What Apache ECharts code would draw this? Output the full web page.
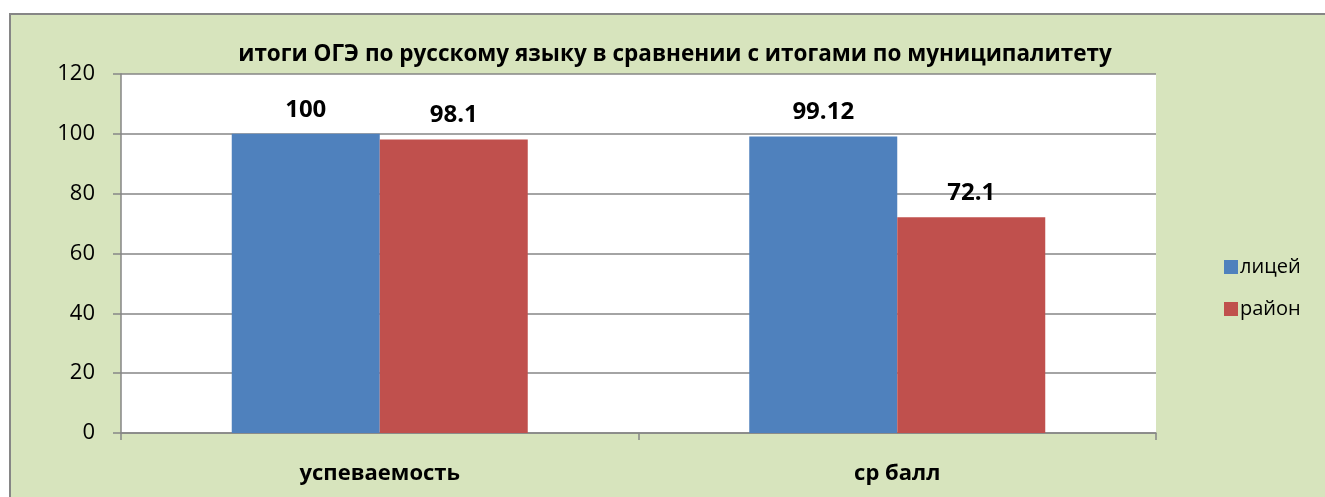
<!DOCTYPE html>
<html>
<head>
<meta charset="utf-8">
<script src="https://cdn.jsdelivr.net/npm/echarts@6/dist/echarts.min.js"></script>
<style>
  html, body { margin: 0; padding: 0; background: #fff; }
  #chart { width: 1325px; height: 497px; }
</style>
</head>
<body>
<div id="chart"></div>
<script>
// chart data
var categories = ['успеваемость', 'ср балл'];
var seriesNames = ['лицей', 'район'];
var liceyValues = [100, 99.12];
var raionValues = [98.1, 72.1];
var yTicks = { min: 0, max: 120, interval: 20 };

var dom = document.getElementById('chart');
var myChart = echarts.init(dom, null, { renderer: 'canvas' });

var font = 'Open Sans';
var labelStyle = {
  show: true,
  position: 'top',
  distance: 12,
  fontFamily: font,
  fontWeight: 'bold',
  fontSize: 24,
  color: '#000'
};

var option = {
  backgroundColor: '#fff',
  animation: false,
  graphic: [{
    type: 'rect',
    z: -10,
    shape: { x: 10, y: 14, width: 1330, height: 500 },
    style: { fill: '#d7e4bd', stroke: '#868686', lineWidth: 2 }
  }],
  title: {
    text: 'итоги ОГЭ по русскому языку в сравнении с итогами по муниципалитету',
    left: 670,
    textAlign: 'center',
    top: 38,
    textStyle: { fontFamily: font, fontWeight: 'bold', fontSize: 22.5, color: '#000' }
  },
  legend: {
    orient: 'vertical',
    left: 1219,
    top: 252,
    itemWidth: 14,
    itemHeight: 14,
    itemGap: 22,
    icon: 'rect',
    textStyle: { fontFamily: font, fontSize: 20, color: '#000', padding: [0, 0, 0, -3] },
    data: seriesNames
  },
  grid: {
    show: true,
    left: 121,
    top: 74,
    width: 1035,
    height: 359,
    backgroundColor: '#fff',
    borderWidth: 0
  },
  xAxis: {
    type: 'category',
    data: categories,
    axisLine: { lineStyle: { color: '#868686', width: 1.5 } },
    axisTick: { show: true, length: 7, lineStyle: { color: '#868686', width: 1.5 } },
    axisLabel: { margin: 30, fontFamily: font, fontWeight: 'bold', fontSize: 22, color: '#000' }
  },
  yAxis: {
    type: 'value',
    min: yTicks.min,
    max: yTicks.max,
    interval: yTicks.interval,
    axisLine: { show: true, lineStyle: { color: '#868686', width: 1.5 } },
    axisTick: { show: true, length: 8, lineStyle: { color: '#868686', width: 1.5 } },
    splitLine: { lineStyle: { color: '#868686', width: 1.5 } },
    axisLabel: { margin: 26, fontFamily: font, fontSize: 22, color: '#000' }
  },
  series: [
    {
      name: seriesNames[0],
      type: 'bar',
      data: liceyValues,
      barWidth: 148,
      barGap: '0%',
      itemStyle: { color: '#4f81bd' },
      label: labelStyle
    },
    {
      name: seriesNames[1],
      type: 'bar',
      data: raionValues,
      barWidth: 148,
      barGap: '0%',
      itemStyle: { color: '#c0504d' },
      label: labelStyle
    }
  ]
};

myChart.setOption(option);
</script>
</body>
</html>
